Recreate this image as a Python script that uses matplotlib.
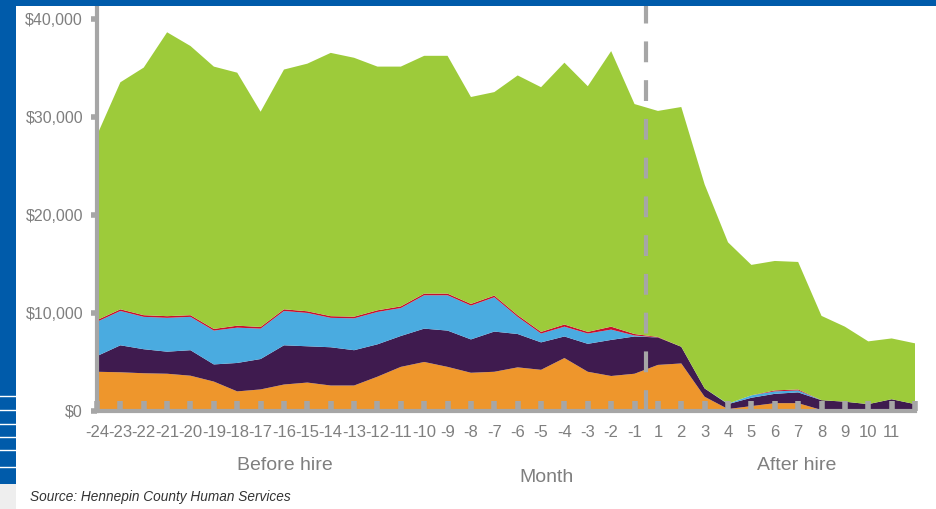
import numpy as np
import matplotlib as mpl
mpl.use('Agg')
import matplotlib.pyplot as plt
from matplotlib import ticker, font_manager
from matplotlib.patches import Rectangle

# months relative to hire (last tick has no label in the original)
months = [str(m) for m in range(-24, 0)] + [str(m) for m in range(1, 12)] + ['']

# layer values in dollars, bottom to top
orange = [4000, 3950, 3850, 3800, 3600, 3000, 2000, 2200, 2700, 2900, 2600, 2600,
          3500, 4500, 5000, 4500, 3900, 4000, 4450, 4200, 5400, 4000, 3570, 3800,
          4700, 4850, 1450, 200, 500, 800, 800, 100, 0, 0, 0, 0]
purple = [1600, 2750, 2450, 2250, 2600, 1750, 2900, 3100, 4000, 3700, 3900, 3600,
          3300, 3150, 3400, 3700, 3400, 4100, 3400, 2800, 2200, 2850, 3680, 3800,
          2800, 1700, 850, 500, 850, 950, 1100, 1000, 950, 700, 1200, 700]
blue = [3500, 3500, 3300, 3450, 3400, 3450, 3600, 3100, 3500, 3400, 3000, 3250,
        3300, 2850, 3400, 3600, 3450, 3500, 1750, 900, 1000, 1050, 1050, 100,
        0, 0, 0, 50, 250, 250, 200, 0, 0, 0, 0, 0]
red = [170, 170, 170, 170, 170, 170, 200, 170, 170, 170, 170, 170,
       170, 170, 170, 170, 170, 170, 170, 170, 220, 170, 300, 150,
       50, 0, 0, 0, 0, 100, 100, 0, 0, 0, 0, 0]
green = [18850, 23150, 25250, 28950, 27450, 26750, 25800, 21950, 24450, 25250, 26850, 26400,
         24850, 24450, 24250, 24250, 21100, 20750, 24450, 24950, 26700, 25050, 28100, 23450,
         23050, 24450, 20800, 16450, 13300, 13200, 13000, 8600, 7650, 6400, 6200, 6200]

colors = ['#EE962C', '#3F1B4F', '#4AABE0', '#C8102E', '#9DCB3A']
GREY = '#A6A6A6'
TXT = '#7F7F7F'

names = {f.name for f in font_manager.fontManager.ttflist}
base = 'Liberation Sans' if 'Liberation Sans' in names else 'DejaVu Sans'
plt.rcParams['font.family'] = base

W, H = 937, 509
fig = plt.figure(figsize=(W / 100, H / 100), dpi=100)
ax = fig.add_axes([97 / W, 1 - 411 / H, (915 - 97) / W, (411 - 6) / H])

x = np.arange(len(months))
ax.stackplot(x, orange, purple, blue, red, green, colors=colors, linewidth=0)

ax.axvline(23.5, color=GREY, lw=3, dashes=(5, 4.3), zorder=3)

ax.set_xlim(0, len(months) - 1)
ax.set_ylim(0, 41300)
ax.set_xticks(x)
ax.set_xticklabels(months, fontsize=12, color=TXT)
ax.set_yticks([0, 10000, 20000, 30000, 40000])
ax.yaxis.set_major_formatter(ticker.FuncFormatter(lambda v, p: '${:,.0f}'.format(v)))
ax.tick_params(axis='y', direction='out', length=4, width=4, color=GREY,
               labelcolor=TXT, labelsize=11.5, pad=6)
ax.tick_params(axis='x', direction='in', length=7, width=4, color=GREY, pad=10)

for s in ['top', 'right']:
    ax.spines[s].set_visible(False)
for s in ['left', 'bottom']:
    ax.spines[s].set_color(GREY)
    ax.spines[s].set_linewidth(3)
ax.set_axisbelow(False)
for t in ax.xaxis.get_major_ticks():
    t.tick1line.set_zorder(4)

fig.text(285 / W, 1 - 466 / H, 'Before hire', ha='center', va='center', fontsize=14, color=TXT)
fig.text(547 / W, 1 - 477 / H, 'Month', ha='center', va='center', fontsize=14, color=TXT)
fig.text(797 / W, 1 - 466 / H, 'After hire', ha='center', va='center', fontsize=14, color=TXT)
fig.text(30 / W, 1 - 497 / H, 'Source: Hennepin County Human Services', ha='left', va='center',
         fontsize=9.8, style='italic', color='#333333')

# blue frame on top and left
BLUE = '#005BAA'
fig.add_artist(Rectangle((0, 1 - 6 / H), 1, 6 / H, transform=fig.transFigure, color=BLUE, lw=0))
fig.add_artist(Rectangle((0, 25 / H), 16 / W, 1 - 25 / H, transform=fig.transFigure, color=BLUE, lw=0))
fig.add_artist(Rectangle((0, 0), 16 / W, 25 / H, transform=fig.transFigure, color='#EEEEEE', lw=0))
for yy in [396, 410, 424, 437, 450, 467]:
    fig.add_artist(plt.Line2D([0, 16 / W], [1 - yy / H, 1 - yy / H], transform=fig.transFigure,
                              color='white', lw=1))

plt.savefig('out.png', dpi=100)
